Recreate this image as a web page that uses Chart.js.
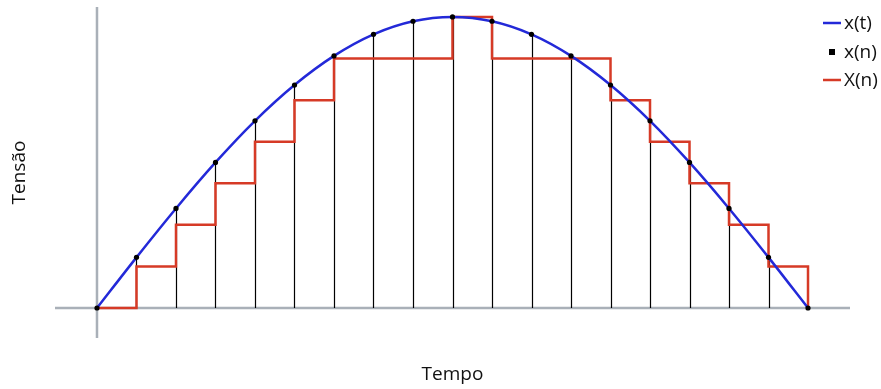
<!DOCTYPE html>
<html>
<head>
<meta charset="utf-8">
<script src="https://cdn.jsdelivr.net/npm/chart.js@4"></script>
<style>
html,body{margin:0;padding:0;background:#fff;}
#wrap{position:relative;width:881px;height:389px;}
</style>
</head>
<body>
<div id="wrap"><canvas id="c" width="881" height="389"></canvas></div>
<script>
// Sample indices n
const sampleIndex = [0,1,2,3,4,5,6,7,8,9,10,11,12,13,14,15,16,17,18];
const sampledValues = [0,0.174,0.342,0.5,0.643,0.766,0.866,0.940,0.985,1,0.985,0.940,0.866,0.766,0.643,0.5,0.342,0.174,0];
// X(n): quantized (held) values
const quantizedValues = [0,0.143,0.286,0.429,0.571,0.714,0.857,0.857,0.857,1,0.857,0.857,0.857,0.714,0.571,0.429,0.286,0.143,0];
const seriesLabels = ['x(t)','x(n)','X(n)'];
const axisTitles = {x:'Tempo', y:'Tensão'};

const FONT = '"Open Sans", "Noto Sans", sans-serif';
const BLUE = '#2329d8';
const RED = '#d63a26';
const AXIS = '#a9b0b8';

const pts = arr => sampleIndex.map((n,i)=>({x:n,y:arr[i]}));

const decor = {
  id:'decor',
  beforeDatasetsDraw(chart){
    const {ctx, scales:{x,y}, chartArea:a} = chart;
    ctx.save();
    // axis lines through origin
    ctx.strokeStyle = AXIS; ctx.lineWidth = 2.5;
    ctx.beginPath();
    ctx.moveTo(a.left, y.getPixelForValue(0)); ctx.lineTo(a.right, y.getPixelForValue(0));
    ctx.moveTo(x.getPixelForValue(0), a.top); ctx.lineTo(x.getPixelForValue(0), a.bottom);
    ctx.stroke();
    // stems
    ctx.strokeStyle = '#000'; ctx.lineWidth = 1.2;
    ctx.beginPath();
    sampleIndex.forEach((n,i)=>{
      const px = Math.round(x.getPixelForValue(n))+0.5;
      ctx.moveTo(px, y.getPixelForValue(0));
      ctx.lineTo(px, y.getPixelForValue(sampledValues[i]));
    });
    ctx.stroke();
    ctx.restore();
  },
  afterDraw(chart){
    const {ctx, chartArea:a} = chart;
    ctx.save();
    ctx.fillStyle = '#111';
    ctx.font = '19px ' + FONT;
    ctx.textAlign = 'center'; ctx.textBaseline = 'middle';
    ctx.fillText(axisTitles.x, (a.left+a.right)/2, 375);
    ctx.translate(20, (a.top+a.bottom)/2);
    ctx.rotate(-Math.PI/2);
    ctx.fillText(axisTitles.y, 0, 0);
    ctx.restore();
    // legend
    ctx.save();
    ctx.font = '19px ' + FONT;
    ctx.textAlign = 'left'; ctx.textBaseline = 'middle';
    const rows = [23, 52, 80];
    ctx.lineWidth = 2.5;
    ctx.strokeStyle = BLUE;
    ctx.beginPath(); ctx.moveTo(823, rows[0]); ctx.lineTo(841, rows[0]); ctx.stroke();
    ctx.fillStyle = '#000';
    ctx.fillRect(829, rows[1]-3, 6, 6);
    ctx.strokeStyle = RED;
    ctx.beginPath(); ctx.moveTo(823, rows[2]); ctx.lineTo(841, rows[2]); ctx.stroke();
    ctx.fillStyle = '#111';
    seriesLabels.forEach((t,i)=>ctx.fillText(t, 844, rows[i]+1));
    ctx.restore();
  }
};

new Chart(document.getElementById('c'), {
  type:'line',
  data:{
    datasets:[
      {label:seriesLabels[2], data:pts(quantizedValues), borderColor:RED, borderWidth:2.5, stepped:true, pointRadius:0, fill:false, order:3},
      {label:seriesLabels[0], data:pts(sampledValues), borderColor:BLUE, borderWidth:2.5, cubicInterpolationMode:'monotone', pointRadius:0, fill:false, order:2},
      {label:seriesLabels[1], data:pts(sampledValues), showLine:false, pointRadius:2.6, pointBackgroundColor:'#000', pointBorderColor:'#000', pointBorderWidth:0, order:1}
    ]
  },
  options:{
    responsive:false, animation:false,
    layout:{padding:{left:55, right:31, top:7, bottom:51}},
    plugins:{legend:{display:false}, tooltip:{enabled:false}},
    scales:{
      x:{type:'linear', display:false, min:-1.063, max:19.063},
      y:{type:'linear', display:false, min:-0.103, max:1.034}
    }
  },
  plugins:[decor]
});
</script>
</body>
</html>
